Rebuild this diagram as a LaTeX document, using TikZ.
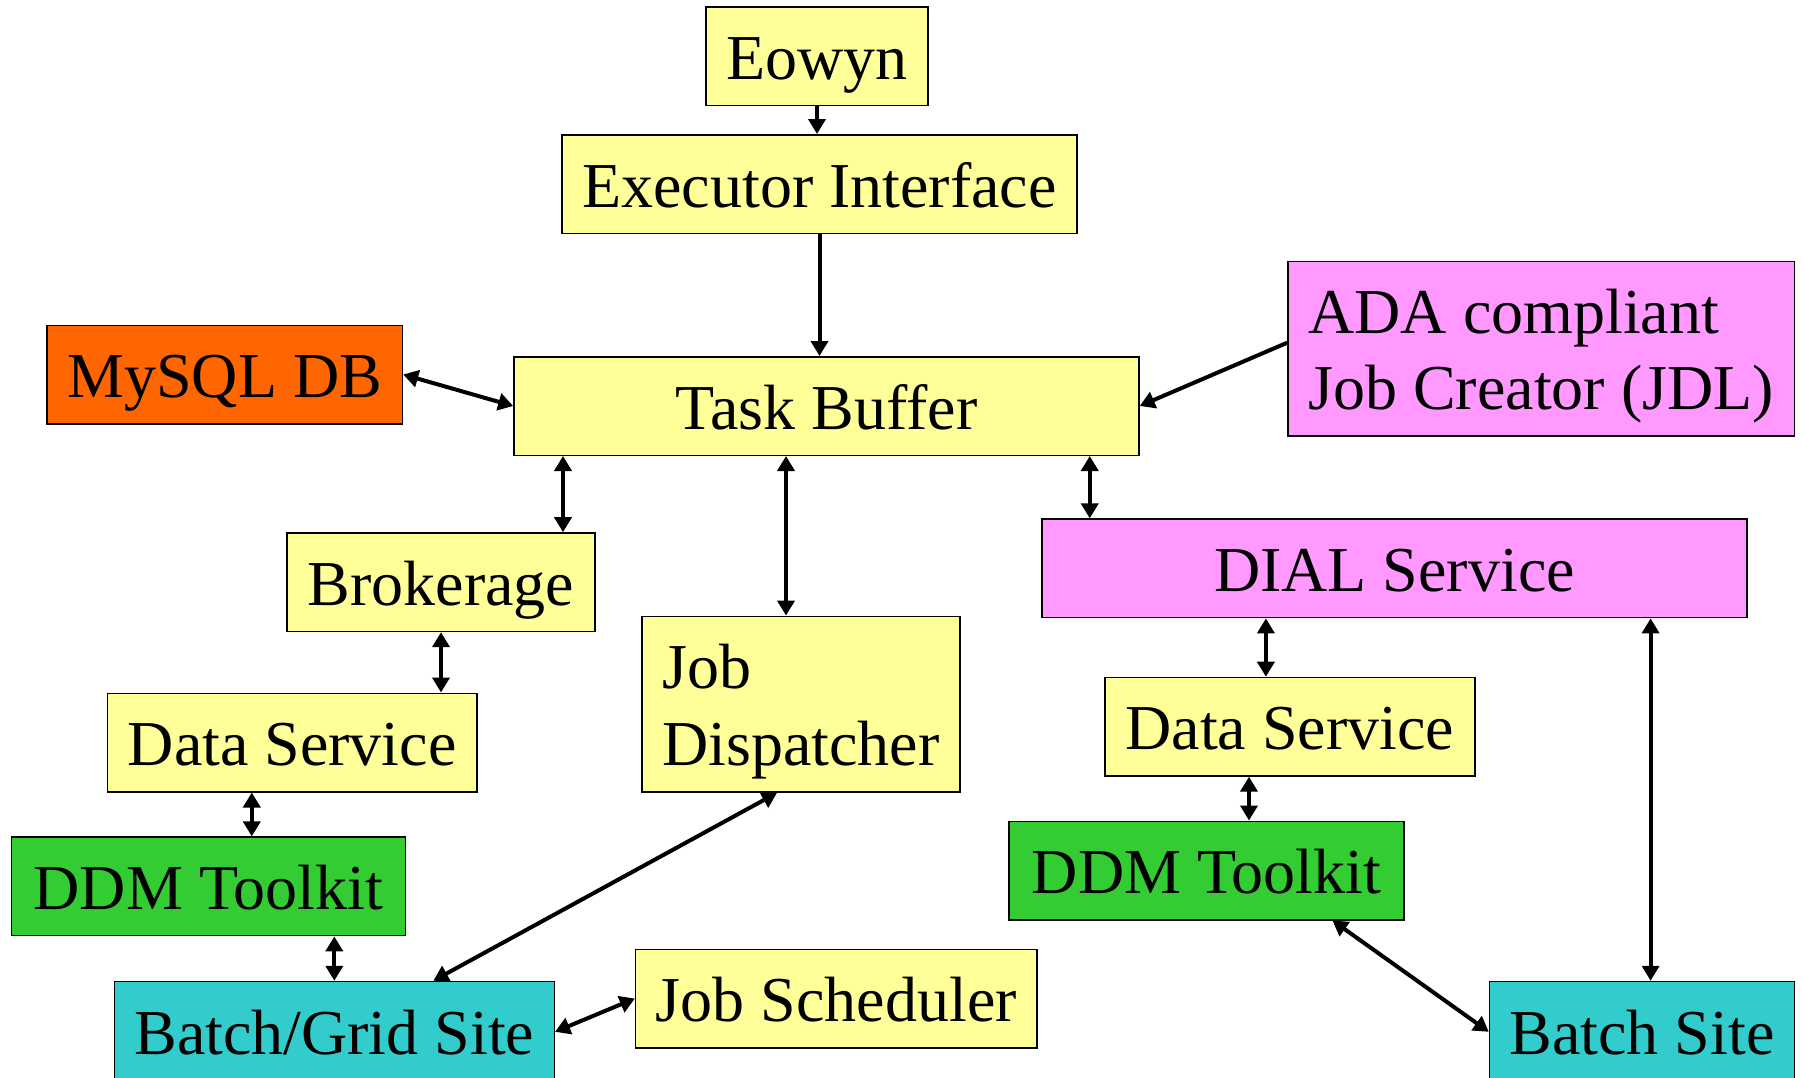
\documentclass[tikz,border=0pt]{standalone}
\usepackage{fontspec}
\setmainfont{Liberation Serif}
\usepackage{tikz}
\usetikzlibrary{arrows.meta}

\definecolor{yel}{HTML}{FFFF99}
\definecolor{org}{HTML}{FF6600}
\definecolor{mag}{HTML}{FF99FF}
\definecolor{grn}{HTML}{33CC33}
\definecolor{cyn}{HTML}{33CCCC}

\tikzset{
	blk/.style={draw, line width=1.5pt, inner sep=0pt, minimum height=98.5pt,
		font=\fontsize{64pt}{76.5pt}\selectfont, text height=46pt, text depth=0pt},
	twoline/.style={align=left, text height=122.5pt, text depth=0pt},
	link/.style={line width=4pt},
}

\begin{document}
\begin{tikzpicture}[x=1pt, y=-1pt, >={Triangle[length=15pt,width=17pt]}]
		\useasboundingbox (0,0) rectangle (1802,1077);
		% boxes
		\node[blk, fill=yel, minimum width=222pt] (Eow) at (817,56) {Eowyn};
		\node[blk, fill=yel, minimum width=515pt] (EI) at (819.5,184) {Executor Interface};
		\node[blk, fill=org, minimum width=355.5pt] (DB) at (224.7,374.5) {MySQL DB};
		\node[blk, fill=yel, minimum width=625pt] (TB) at (826.5,406) {Task Buffer};
		\node[blk, twoline, fill=mag, minimum width=506.5pt, minimum height=174.6pt] (ADA) at (1541.2,348.7)
			{ADA compliant\\Job Creator (JDL)};
		\node[blk, fill=yel, minimum width=308pt] (Brk) at (441,582.2) {Brokerage};
		\node[blk, twoline, fill=yel, minimum width=318pt, minimum height=175.8pt] (JD) at (801,704.2)
			{Job\\Dispatcher};
		\node[blk, fill=mag, minimum width=705pt] (DIAL) at (1394.5,568.4) {DIAL Service};
		\node[blk, fill=yel, minimum width=369.7pt] (DSL) at (292.2,742.5) {Data Service};
		\node[blk, fill=yel, minimum width=369.7pt] (DSR) at (1289.9,726.7) {Data Service};
		\node[blk, fill=grn, minimum width=394.3pt] (DDML) at (208.4,886.4) {DDM Toolkit};
		\node[blk, fill=grn, minimum width=395pt] (DDMR) at (1206.5,870.5) {DDM Toolkit};
		\node[blk, fill=cyn, minimum width=440pt, minimum height=100.6pt] (BGS) at (334.3,1031.8) {Batch/Grid Site};
		\node[blk, fill=yel, minimum width=401.4pt] (JS) at (836.3,998.5) {Job Scheduler};
		\node[blk, fill=cyn, minimum width=305pt, minimum height=100.6pt] (BS) at (1642,1031.8) {Batch Site};
		% anchor points of the vertical links
		\coordinate (tb1) at ([xshift=122pt]Brk.north);
		\coordinate (tb2) at ([xshift=-15pt]JD.north);
		\coordinate (tb3) at ([xshift=48.5pt]DIAL.north west);
		\coordinate (ds1) at ([xshift=43.4pt]DDML.north);
		\coordinate (dl1) at ([xshift=-24pt]DSR.north);
		\coordinate (dl2) at ([xshift=42.5pt]DDMR.north);
		\coordinate (dl3) at ([xshift=8.6pt]BS.north);
		% links
		\draw[link,->] (Eow.south) -- (Eow.south |- EI.north);
		\draw[link,->] (EI.south) -- (EI.south |- TB.north);
		\draw[link,<->] (DB.east) -- (TB.west);
		\draw[link,->] ([yshift=6pt]ADA.west) -- (TB.east);
		\draw[link,<->] (tb1 |- TB.south) -- (tb1);
		\draw[link,<->] (tb2 |- TB.south) -- (tb2);
		\draw[link,<->] (tb3 |- TB.south) -- (tb3);
		\draw[link,<->] (Brk.south) -- (Brk.south |- DSL.north);
		\draw[link,<->] (ds1 |- DSL.south) -- (ds1);
		\draw[link,<->] (BGS.north |- DDML.south) -- (BGS.north);
		\draw[link,<->] ([xshift=-24pt]JD.south) -- ([xshift=99pt]BGS.north);
		\draw[link,<->] (BGS.east) -- (JS.west);
		\draw[link,<->] (dl1 |- DIAL.south) -- (dl1);
		\draw[link,<->] (dl2 |- DSR.south) -- (dl2);
		\draw[link,<->] ([xshift=126pt]DDMR.south) -- (BS.west);
		\draw[link,<->] (dl3 |- DIAL.south) -- (dl3);
\end{tikzpicture}
\end{document}
